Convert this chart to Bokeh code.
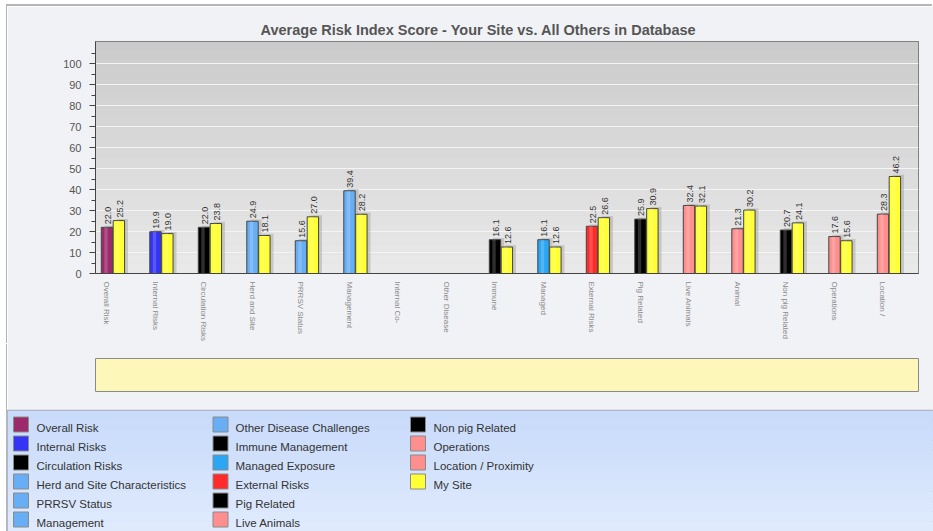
import math
from bokeh.plotting import figure
from bokeh.models import (Title, FixedTicker, BoxAnnotation, Range1d, ColumnDataSource)
from bokeh.core.properties import value
from bokeh.embed import file_html
from bokeh.resources import INLINE

NAN = float("nan")

# ---------------- data ----------------
categories = ["Overall Risk", "Internal Risks", "Circulation Risks", "Herd and Site",
              "PRRSV Status", "Management", "Internal Co-", "Other Disease", "Immune",
              "Managed", "External Risks", "Pig Related", "Live Animals", "Animal",
              "Non pig Related", "Operations", "Location /"]
all_others = [22.0, 19.9, 22.0, 24.9, 15.6, 39.4, NAN, NAN, 16.1, 16.1, 22.5, 25.9,
              32.4, 21.3, 20.7, 17.6, 28.3]
my_site = [25.2, 19.0, 23.8, 18.1, 27.0, 28.2, NAN, NAN, 12.6, 12.6, 26.6, 30.9,
           32.1, 30.2, 24.1, 15.6, 46.2]
bar_colors = ["#9a2a6a", "#3434f4", "#000000", "#68aef4", "#68aef4", "#68aef4",
              "#68aef4", "#68aef4", "#000000", "#2aa6f4", "#ff2a2a", "#000000",
              "#ff8e8e", "#ff8e8e", "#000000", "#ff8e8e", "#ff8e8e"]
my_site_color = "#ffff33"

legend_labels = ["Overall Risk", "Internal Risks", "Circulation Risks",
                 "Herd and Site Characteristics", "PRRSV Status", "Management",
                 "Other Disease Challenges", "Immune Management", "Managed Exposure",
                 "External Risks", "Pig Related", "Live Animals", "Non pig Related",
                 "Operations", "Location / Proximity", "My Site"]
legend_colors = ["#9a2a6a", "#3434f4", "#000000", "#68aef4", "#68aef4", "#68aef4",
                 "#68aef4", "#000000", "#2aa6f4", "#ff2a2a", "#000000", "#ff8e8e",
                 "#000000", "#ff8e8e", "#ff8e8e", "#ffff33"]

y_ticks = [0, 10, 20, 30, 40, 50, 60, 70, 80, 90, 100]
y_minor = [5, 15, 25, 35, 45, 55, 65, 75, 85, 95, 105]
title_text = "Average Risk Index Score - Your Site vs. All Others in Database"

FONT = "Liberation Sans"
PANEL = "#f1f2f6"
EDGE = "#b5b5b5"

# ---------------- chart ----------------
n = len(categories)
xs = list(range(n))
bw = 0.235
off = 0.245

p = figure(width=926, height=339, output_backend="svg", toolbar_location=None,
           x_range=Range1d(-0.237, 16.732), y_range=Range1d(0, 110.5),
           min_border_left=88, min_border_right=15, min_border_top=35,
           min_border_bottom=72,
           styles={"margin-left": "7px", "margin-top": "6px", "vertical-align": "top",
                   "box-shadow": "-1px -2px 0px 0px " + EDGE})
p.border_fill_color = PANEL
p.background_fill_color = "#dadada"
p.outline_line_color = "#666666"
p.outline_line_width = 1

t = Title(text=title_text, align="left", offset=165, text_font_size="14.5px",
          text_font_style="bold", text_color="#555555", text_font=FONT, standoff=7)
p.add_layout(t, "above")

# vertical gradient of the plot background
nb = 24
top_c, bot_c = (0xcb, 0xcb, 0xcb), (0xe9, 0xe9, 0xe9)
for k in range(nb):
    f = k / (nb - 1)
    c = tuple(int(round(bot_c[j] + (top_c[j] - bot_c[j]) * f)) for j in range(3))
    p.add_layout(BoxAnnotation(bottom=110.5 * k / nb, top=110.5 * (k + 1) / nb,
                               fill_color="#%02x%02x%02x" % c, fill_alpha=1,
                               line_alpha=0, level="image"))

src = ColumnDataSource(dict(
    x=xs, x2=[x + off for x in xs], a=all_others, m=my_site, c=bar_colors,
    xs_a=[x + 0.07 for x in xs], xs_m=[x + off + 0.07 for x in xs],
    sa=[v + 0.8 for v in all_others], sm=[v + 0.8 for v in my_site],
    ha=[x - 0.02 for x in xs], hm=[x + off - 0.02 for x in xs],
))

# shadows
p.vbar(x="xs_a", top="sa", width=bw, source=src, fill_color="#8a8a8a", fill_alpha=0.35, line_alpha=0)
p.vbar(x="xs_m", top="sm", width=bw, source=src, fill_color="#8a8a8a", fill_alpha=0.35, line_alpha=0)
# bars
p.vbar(x="x", top="a", width=bw, source=src, fill_color="c", line_color="#444444", line_width=1)
p.vbar(x="x2", top="m", width=bw, source=src, fill_color=my_site_color, line_color="#444444", line_width=1)
# highlight
p.vbar(x="ha", top="a", width=0.07, source=src, fill_color="white", fill_alpha=0.18, line_alpha=0)
p.vbar(x="hm", top="m", width=0.07, source=src, fill_color="white", fill_alpha=0.18, line_alpha=0)

# value labels
lx, ly, lt = [], [], []
for i in range(n):
    if not math.isnan(all_others[i]):
        lx.append(xs[i]); ly.append(all_others[i]); lt.append(f"{all_others[i]:.1f}")
    if not math.isnan(my_site[i]):
        lx.append(xs[i] + off); ly.append(my_site[i]); lt.append(f"{my_site[i]:.1f}")
p.text(x=lx, y=ly, text=lt, angle=math.pi / 2, text_align="left", text_baseline="middle",
       y_offset=-3, x_offset=1, text_font=value(FONT), text_font_size="9px",
       text_color="#333333")

# axes
p.yaxis.ticker = FixedTicker(ticks=y_ticks, minor_ticks=y_minor)
p.yaxis.major_tick_out = 6
p.yaxis.major_tick_in = 0
p.yaxis.minor_tick_out = 4
p.yaxis.minor_tick_in = 0
p.yaxis.axis_line_color = "#444444"
p.yaxis.major_tick_line_color = "#444444"
p.yaxis.minor_tick_line_color = "#444444"
p.yaxis.major_label_text_font = FONT
p.yaxis.major_label_text_font_size = "11px"
p.yaxis.major_label_text_color = "#555555"
p.yaxis.major_label_standoff = 8

p.xaxis.ticker = FixedTicker(ticks=xs)
p.xaxis.major_label_overrides = {i: categories[i] for i in xs}
p.xaxis.major_label_orientation = -math.pi / 2
p.xaxis.major_tick_out = 0
p.xaxis.major_tick_in = 0
p.xaxis.minor_tick_line_color = None
p.xaxis.axis_line_color = "#444444"
p.xaxis.major_label_text_font = FONT
p.xaxis.major_label_text_font_size = "8px"
p.xaxis.major_label_text_color = "#8a8a8a"
p.xaxis.major_label_standoff = 8

p.ygrid.ticker = FixedTicker(ticks=y_ticks)
p.ygrid.grid_line_color = "#f4f4f4"
p.ygrid.grid_line_width = 1
p.xgrid.grid_line_color = None

# ---------------- yellow note box ----------------
p2 = figure(width=926, height=65, output_backend="svg", toolbar_location=None,
            x_axis_type=None, y_axis_type=None,
            x_range=Range1d(0, 1), y_range=Range1d(0, 1),
            min_border_left=88, min_border_right=15, min_border_top=14, min_border_bottom=18,
            styles={"margin-left": "7px", "margin-top": "-1px", "vertical-align": "top",
                    "position": "relative",
                    "box-shadow": "-1px 0px 0px 0px " + EDGE})
p2.border_fill_color = PANEL
p2.background_fill_color = "#fdf8b9"
p2.outline_line_color = "#8a8a8a"
p2.outline_line_width = 1
p2.grid.grid_line_color = None

# ---------------- legend panel ----------------
LH = 121
p3 = figure(width=926, height=123, output_backend="svg", toolbar_location=None,
            x_axis_type=None, y_axis_type=None,
            x_range=Range1d(0, 926), y_range=Range1d(LH, 0),
            min_border_left=0, min_border_right=0, min_border_top=2, min_border_bottom=0,
            styles={"margin-left": "7px", "margin-top": "-1px", "vertical-align": "top",
                    "position": "relative",
                    "box-shadow": "-1px 0px 0px 0px " + EDGE})
p3.border_fill_color = PANEL
p3.background_fill_color = "#d3e2fb"
p3.outline_line_color = "#a4abb6"
p3.outline_line_width = 1.5
p3.grid.grid_line_color = None

ltop, lbot = (0xc8, 0xdb, 0xfa), (0xdf, 0xea, 0xfd)
nb2 = 12
for k in range(nb2):
    f = k / (nb2 - 1)
    c = tuple(int(round(ltop[j] + (lbot[j] - ltop[j]) * f)) for j in range(3))
    p3.add_layout(BoxAnnotation(top=LH * k / nb2, bottom=LH * (k + 1) / nb2,
                                fill_color="#%02x%02x%02x" % c, fill_alpha=1,
                                line_alpha=0, level="image"))

col_sw_x = [13.5, 213, 410.5]
col_tx_x = [29, 228, 426]
row0, row_h = 14, 19
sx, sy, tx, ty = [], [], [], []
for i, lab in enumerate(legend_labels):
    ccol, rrow = i // 6, i % 6
    sx.append(col_sw_x[ccol]); sy.append(row0 + rrow * row_h)
    tx.append(col_tx_x[ccol]); ty.append(row0 + rrow * row_h + 3)
p3.rect(x=sx, y=sy, width=15, height=15, width_units="screen", height_units="screen",
        fill_color=legend_colors, line_color="#8a8a8a", line_width=1)
p3.text(x=tx, y=ty, text=legend_labels, text_align="left", text_baseline="middle",
        text_font=value(FONT), text_font_size="11.5px", text_color="#333333")

open("out.html", "w").write(file_html([p, p2, p3], INLINE))
